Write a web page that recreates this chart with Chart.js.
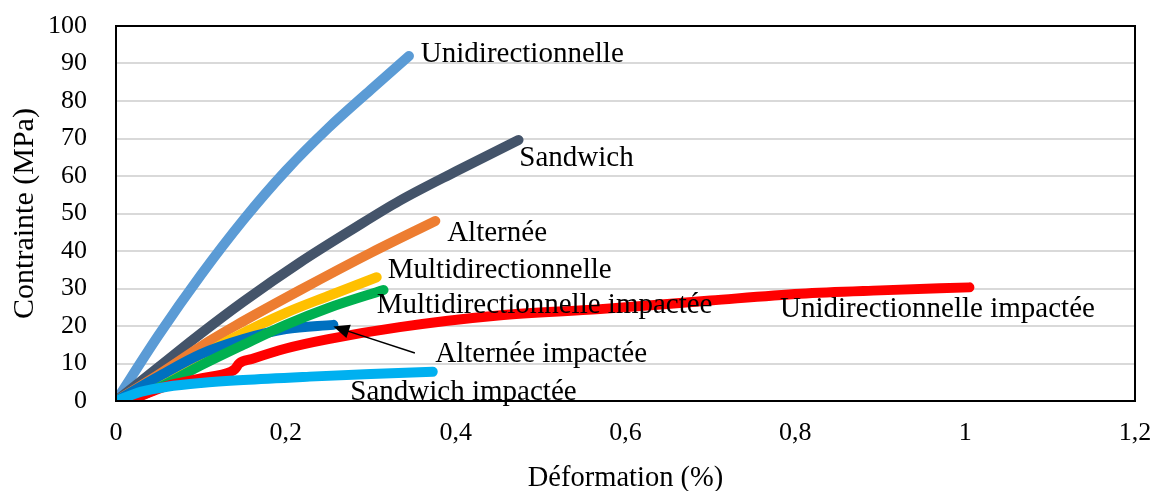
<!DOCTYPE html>
<html>
<head>
  <title>Contrainte - Déformation</title>
  <script src="https://cdn.jsdelivr.net/npm/chart.js"></script>
  <style>
    body { margin: 0; background: #fff; }
    #wrap { width: 1154px; height: 491px; }
  </style>
</head>
<body>
<div id="wrap"><canvas id="chart" width="1154" height="491"></canvas></div>

<script>
  // strain (%) / stress (MPa)
  const uniX = [0, 0.05, 0.1, 0.15, 0.2, 0.25, 0.3, 0.345];
  const uniY = [0, 17.5, 33.6, 48.3, 61.4, 72.8, 83, 92];

  const sandX = [0, 0.05, 0.1, 0.15, 0.217, 0.28, 0.334, 0.4, 0.474];
  const sandY = [0, 9, 18, 26.5, 37, 46, 53.4, 61.2, 69.6];

  const altX = [0, 0.05, 0.11, 0.14, 0.217, 0.3, 0.376];
  const altY = [0, 7, 16, 20, 29.6, 39.5, 48];

  const multiX = [0, 0.05, 0.1, 0.14, 0.2, 0.25, 0.307];
  const multiY = [0, 6, 12, 17, 23.5, 28, 33];

  const multiImpX = [0.013, 0.05, 0.1, 0.15, 0.2, 0.25, 0.315];
  const multiImpY = [0, 3.5, 9.5, 15, 20.3, 24.8, 29.6];

  const altImpX = [0, 0.05, 0.1, 0.15, 0.2, 0.256];
  const altImpY = [0, 6.5, 12.5, 16.5, 19.2, 20.3];

  const uniImpX = [0.015, 0.06, 0.1, 0.135, 0.14, 0.145, 0.16, 0.2, 0.25, 0.334, 0.45, 0.57, 0.7, 0.806, 0.9, 1.005];
  const uniImpY = [0, 4, 6, 7.8, 8.5, 10, 11.2, 14, 16.5, 19.7, 22.8, 24.5, 26.8, 28.6, 29.5, 30.3];

  const sandImpX = [0, 0.03, 0.06, 0.1, 0.15, 0.228, 0.3, 0.373];
  const sandImpY = [0, 2.5, 3.8, 4.8, 5.6, 6.5, 7.2, 7.8];

  const xTicks = [0, 0.2, 0.4, 0.6, 0.8, 1, 1.2];

  // curve labels, anchored in data units
  const labels = [
    { text: 'Unidirectionnelle', x: 0.359, y: 92.3 },
    { text: 'Sandwich', x: 0.475, y: 64.8 },
    { text: 'Alternée', x: 0.390, y: 44.8 },
    { text: 'Multidirectionnelle', x: 0.320, y: 34.7 },
    { text: 'Multidirectionnelle impactée', x: 0.307, y: 25.6 },
    { text: 'Unidirectionnelle impactée', x: 0.782, y: 24.3 },
    { text: 'Alternée impactée', x: 0.376, y: 12.3 },
    { text: 'Sandwich impactée', x: 0.276, y: 2.4 }
  ];
  const arrowFrom = { x: 0.352, y: 12.8 };
  const arrowTo = { x: 0.256, y: 19.9 };

  const FONT = "'Liberation Serif', 'Times New Roman', serif";

  function pts(xs, ys) {
    return xs.map((x, i) => ({ x: x, y: ys[i] }));
  }

  function serie(label, xs, ys, color, width) {
    return {
      label: label,
      data: pts(xs, ys),
      borderColor: color,
      backgroundColor: color,
      borderWidth: width,
      borderCapStyle: 'round',
      borderJoinStyle: 'round',
      pointRadius: 0,
      showLine: true,
      cubicInterpolationMode: 'monotone'
    };
  }

  const annotations = {
    id: 'annotations',
    afterDatasetsDraw(chart) {
      const ctx = chart.ctx;
      const xs = chart.scales.x, ys = chart.scales.y;
      const a = chart.chartArea;

      ctx.save();
      ctx.fillStyle = '#000';
      ctx.font = '29px ' + FONT;
      ctx.textAlign = 'left';
      ctx.textBaseline = 'middle';
      labels.forEach(l => {
        ctx.fillText(l.text, xs.getPixelForValue(l.x), ys.getPixelForValue(l.y));
      });

      // arrow towards "Alternée impactée"
      const x1 = xs.getPixelForValue(arrowFrom.x), y1 = ys.getPixelForValue(arrowFrom.y);
      const x2 = xs.getPixelForValue(arrowTo.x), y2 = ys.getPixelForValue(arrowTo.y);
      const ang = Math.atan2(y2 - y1, x2 - x1);
      ctx.strokeStyle = '#000';
      ctx.lineWidth = 1.5;
      ctx.beginPath();
      ctx.moveTo(x1, y1);
      ctx.lineTo(x2 - 12 * Math.cos(ang), y2 - 12 * Math.sin(ang));
      ctx.stroke();
      ctx.beginPath();
      ctx.moveTo(x2, y2);
      ctx.lineTo(x2 - 16 * Math.cos(ang) + 7 * Math.sin(ang), y2 - 16 * Math.sin(ang) - 7 * Math.cos(ang));
      ctx.lineTo(x2 - 16 * Math.cos(ang) - 7 * Math.sin(ang), y2 - 16 * Math.sin(ang) + 7 * Math.cos(ang));
      ctx.closePath();
      ctx.fill();

      // plot frame
      ctx.lineWidth = 2;
      ctx.strokeRect(a.left, a.top, a.right - a.left, a.bottom - a.top);
      ctx.restore();
    }
  };

  new Chart(document.getElementById('chart'), {
    type: 'scatter',
    data: {
      datasets: [
        serie('Sandwich impactée', sandImpX, sandImpY, '#00B0F0', 10),
        serie('Unidirectionnelle impactée', uniImpX, uniImpY, '#FF0000', 10),
        serie('Multidirectionnelle impactée', multiImpX, multiImpY, '#00B050', 10),
        serie('Alternée impactée', altImpX, altImpY, '#0070C0', 10),
        serie('Multidirectionnelle', multiX, multiY, '#FFC000', 10),
        serie('Alternée', altX, altY, '#ED7D31', 10),
        serie('Sandwich', sandX, sandY, '#44546A', 10),
        serie('Unidirectionnelle', uniX, uniY, '#5B9BD5', 10)
      ]
    },
    options: {
      responsive: false,
      animation: false,
      layout: { padding: { top: 26, right: 19, bottom: 0, left: 0 } },
      plugins: {
        legend: { display: false },
        tooltip: { enabled: false }
      },
      scales: {
        x: {
          type: 'linear',
          min: 0,
          max: 1.2,
          afterFit: s => { s.height = 90; s.paddingLeft = 0; s.paddingRight = 0; },
          afterBuildTicks: s => { s.ticks = xTicks.map(v => ({ value: v })); },
          grid: { display: false, drawTicks: false },
          border: { display: false },
          ticks: {
            color: '#000',
            padding: 17,
            font: { family: FONT, size: 26 },
            callback: v => String(Math.round(v * 10) / 10).replace('.', ',')
          },
          title: {
            display: true,
            text: 'Déformation (%)',
            color: '#000',
            font: { family: FONT, size: 28.5, lineHeight: 0.9 },
            padding: { top: 0, bottom: 0 }
          }
        },
        y: {
          min: 0,
          max: 100,
          afterFit: s => { s.width = 116; s.paddingTop = 0; s.paddingBottom = 0; },
          grid: { color: '#d9d9d9', lineWidth: 2, drawTicks: false },
          border: { display: false },
          ticks: {
            stepSize: 10,
            color: '#000',
            padding: 29,
            font: { family: FONT, size: 26 }
          },
          title: {
            display: true,
            text: 'Contrainte (MPa)',
            color: '#000',
            font: { family: FONT, size: 30, lineHeight: 1.2 },
            padding: { top: 7, bottom: 0 }
          }
        }
      }
    },
    plugins: [annotations]
  });
</script>
</body>
</html>
